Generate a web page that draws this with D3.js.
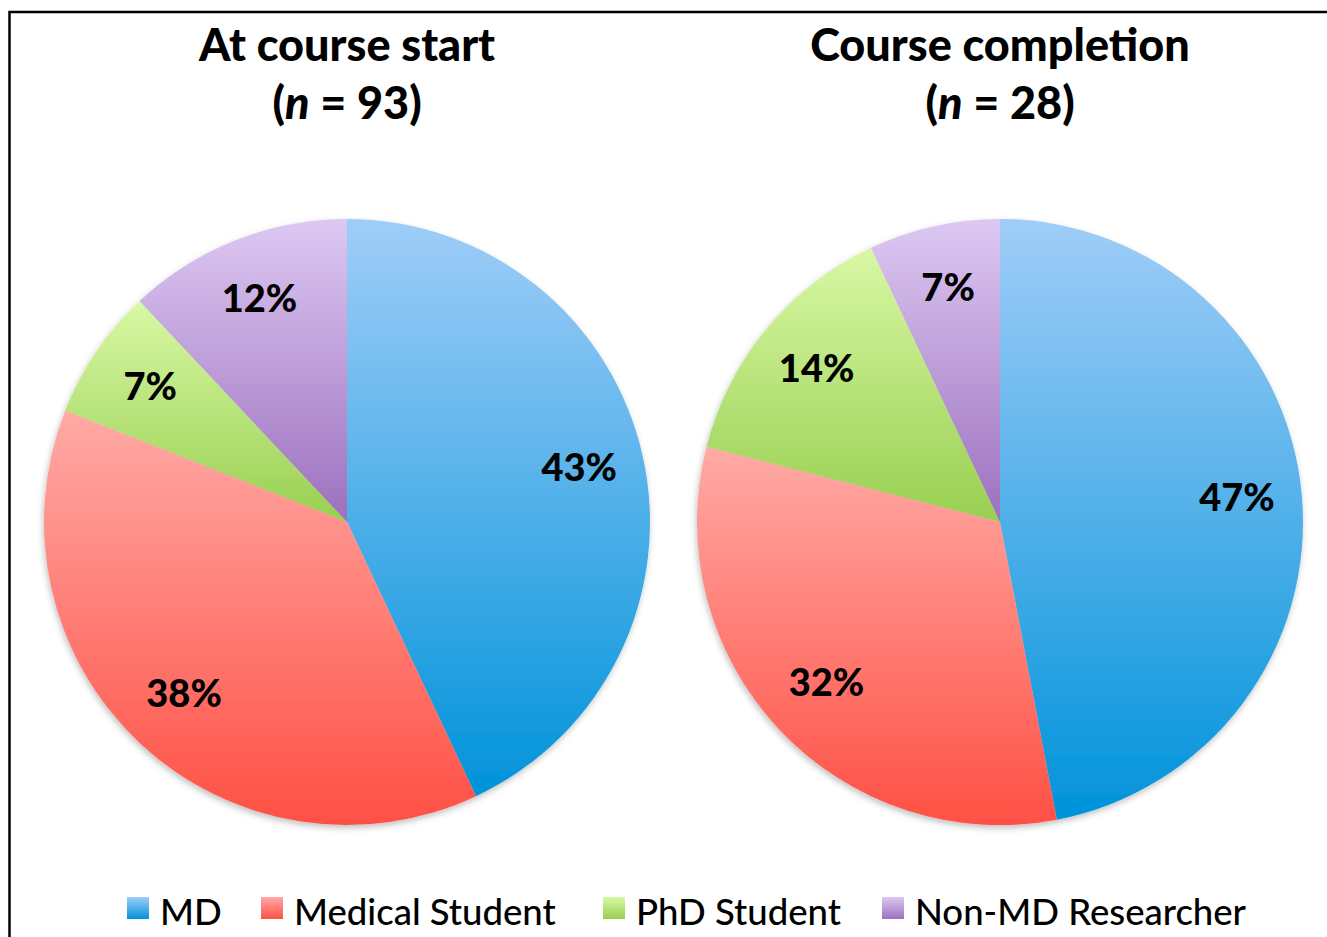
<!DOCTYPE html>
<html><head><meta charset="utf-8">
<script src="https://cdn.jsdelivr.net/npm/d3@7/dist/d3.min.js"></script>
<style>
html,body{margin:0;padding:0;background:#fff;overflow:hidden;}
svg{display:block;font-family:Lato, "Open Sans", sans-serif;}
</style></head>
<body>
<svg id="chart" width="1327" height="937"></svg>
<script>
const categories = ["MD", "Medical Student", "PhD Student", "Non-MD Researcher"];
const startValues = [43, 38, 7, 12];
const completionValues = [47, 32, 14, 7];
const pieTitles = ["At course start", "Course completion"];
const pieNs = [93, 28];
const topColors = ["#a0cdf8", "#ffaaa6", "#d9f8a6", "#ddc8f2"];
const bottomColors = ["#0093da", "#ff5044", "#98cf50", "#9c70be"];

const svg = d3.select("#chart");
const W = 1327, H = 937;
svg.append("rect").attr("width", W).attr("height", H).attr("fill", "#fff");

const defs = svg.append("defs");
categories.forEach((c, i) => {
  const g = defs.append("linearGradient").attr("id", "grad" + i)
    .attr("x1", 0).attr("y1", 0).attr("x2", 0).attr("y2", 1);
  g.append("stop").attr("offset", "0%").attr("stop-color", topColors[i]);
  g.append("stop").attr("offset", "100%").attr("stop-color", bottomColors[i]);
});
const f = defs.append("filter").attr("id", "shadow").attr("x", "-10%").attr("y", "-10%").attr("width", "120%").attr("height", "120%");
f.append("feDropShadow").attr("dx", -1).attr("dy", 3).attr("stdDeviation", 3).attr("flood-color", "#000").attr("flood-opacity", 0.25);

// frame
svg.append("rect").attr("x", 9.5).attr("y", 12).attr("width", 1400).attr("height", 1000)
  .attr("fill", "none").attr("stroke", "#000").attr("stroke-width", 2.5);

const pies = [
  {values: startValues, cx: 347, title: pieTitles[0], n: pieNs[0]},
  {values: completionValues, cx: 1000, title: pieTitles[1], n: pieNs[1]}
];
const cy = 522, R = 303, labelR = 238;
const pie = d3.pie().sort(null).value(d => d.v);
const arc = d3.arc().innerRadius(0).outerRadius(R);
const labelArc = d3.arc().innerRadius(labelR).outerRadius(labelR);

pies.forEach(p => {
  const data = p.values.map((v, i) => ({v, i}));
  const g = svg.append("g").attr("transform", `translate(${p.cx},${cy})`);
  const arcs = pie(data);
  g.append("g").attr("filter", "url(#shadow)")
    .selectAll("path").data(arcs).join("path")
    .attr("d", arc).attr("fill", d => `url(#grad${d.data.i})`);
  g.selectAll("text.lbl").data(arcs).join("text").attr("class", "lbl")
    .attr("transform", d => `translate(${labelArc.centroid(d)})`)
    .attr("text-anchor", "middle").attr("dy", "0.3em")
    .attr("font-size", 38).attr("font-weight", 900).attr("fill", "#000")
    .text(d => d.data.v + "%");

  svg.append("text").attr("x", p.cx).attr("y", 61).attr("text-anchor", "middle")
    .attr("font-size", 45).attr("font-weight", 900).attr("fill", "#000").text(p.title);
  const t2 = svg.append("text").attr("x", p.cx).attr("y", 119).attr("text-anchor", "middle")
    .attr("font-size", 45).attr("font-weight", 900).attr("fill", "#000");
  t2.append("tspan").text("(");
  t2.append("tspan").attr("font-style", "italic").text("n");
  t2.append("tspan").text(" = " + p.n + ")");
});

// legend
const legendX = [127, 261, 603, 882];
const lg = svg.append("g");
categories.forEach((c, i) => {
  lg.append("rect").attr("x", legendX[i]).attr("y", 897).attr("width", 22).attr("height", 22)
    .attr("fill", `url(#grad${i})`);
  lg.append("text").attr("x", legendX[i] + 33).attr("y", 925)
    .attr("font-size", 36.5).attr("font-weight", 500).attr("fill", "#000").text(c);
});
</script>
</body></html>
